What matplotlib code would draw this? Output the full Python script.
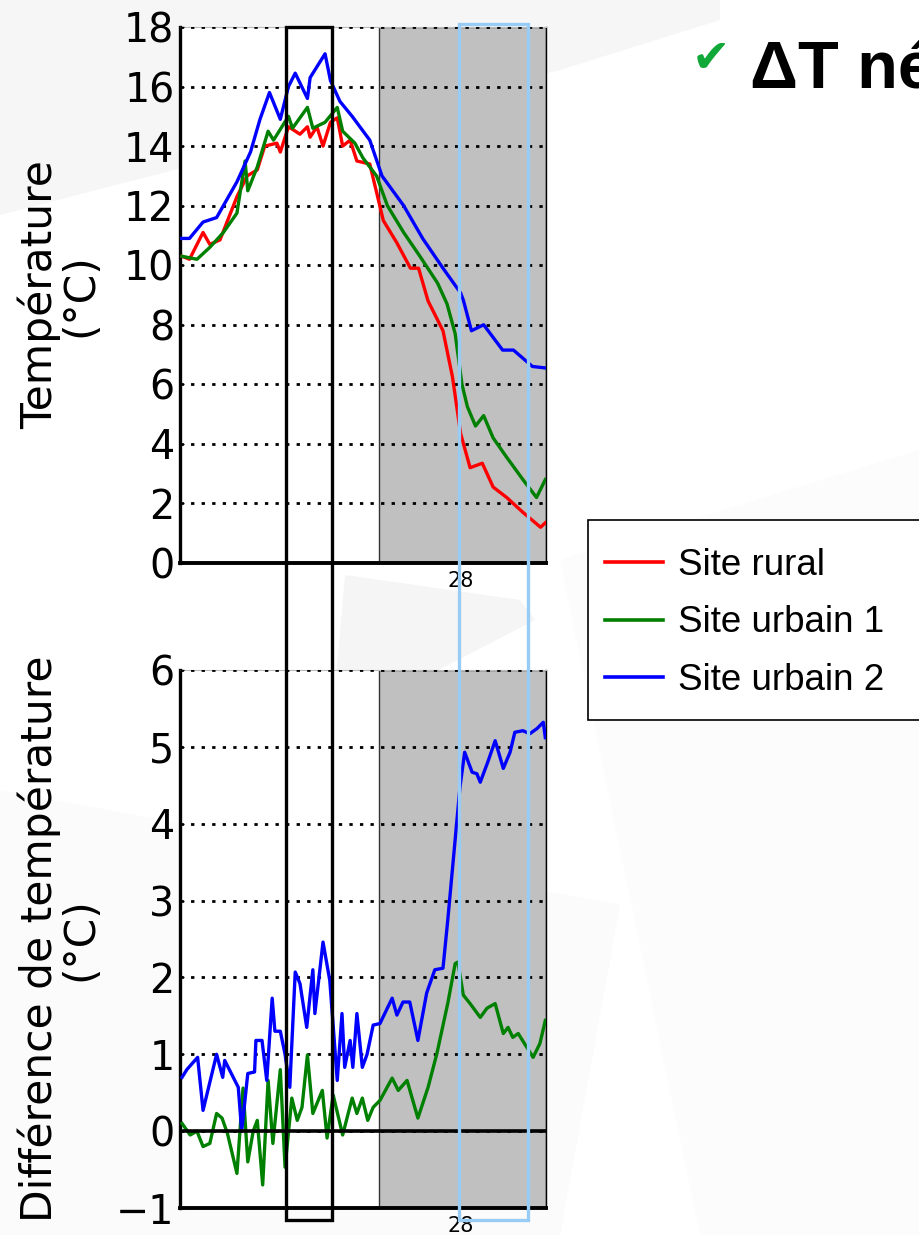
import matplotlib
matplotlib.use("Agg")
import matplotlib.pyplot as plt
from matplotlib.patches import Rectangle, Polygon
from matplotlib.transforms import blended_transform_factory

# Times are hours since 27 at 00:00 (tick "28" = 24 h)
t_rural = [3.45, 4.0, 5.0, 5.5, 6.25, 7.5, 8.25, 9.0, 9.55, 10.45, 10.7, 11.3, 12.15, 12.7, 12.9,
           13.4, 13.85, 14.4, 14.9, 15.3, 15.85, 16.35, 17.3, 18.3, 19.3, 20.3, 20.9, 21.6, 22.7, 23.4,
           24.0, 24.7, 25.6, 26.4, 27.4, 28.6, 29.9, 30.25]
temp_rural = [10.3, 10.2, 11.1, 10.7, 10.85, 12.3, 13.0, 13.2, 14.0, 14.1, 13.8, 14.65, 14.4, 14.65, 14.3,
              14.65, 14.0, 14.8, 14.95, 14.0, 14.2, 13.5, 13.4, 11.5, 10.75, 9.9, 9.9, 8.8, 7.8, 6.25,
              4.35, 3.2, 3.35, 2.55, 2.2, 1.7, 1.2, 1.35]

t_urb1 = [3.45, 4.55, 5.5, 6.5, 7.5, 8.1, 8.3, 9.0, 9.8, 10.2, 11.3, 11.6, 12.7, 13.1, 14.0, 14.9,
          15.3, 16.2, 16.8, 17.8, 18.6, 19.8, 21.0, 22.3, 23.0, 23.6, 24.1, 24.5, 25.1, 25.7, 26.4,
          27.4, 28.6, 29.6, 30.25]
temp_urb1 = [10.3, 10.2, 10.6, 11.1, 11.75, 13.5, 12.5, 13.3, 14.5, 14.2, 15.0, 14.6, 15.3, 14.6, 14.8, 15.3,
             14.5, 14.1, 13.6, 13.0, 12.0, 11.1, 10.3, 9.4, 8.7, 7.7, 6.0, 5.25, 4.6, 4.95, 4.2,
             3.55, 2.8, 2.2, 2.8]

t_urb2 = [3.4, 4.0, 5.0, 6.0, 6.5, 7.5, 8.5, 9.2, 9.9, 10.7, 11.3, 11.8, 12.7, 12.9, 14.0, 14.4,
          15.1, 16.0, 17.3, 18.2, 19.8, 21.2, 22.7, 24.0, 24.2, 24.8, 25.7, 27.1, 27.9, 29.3, 30.25]
temp_urb2 = [10.9, 10.9, 11.45, 11.6, 12.0, 12.8, 13.8, 14.9, 15.8, 14.9, 16.0, 16.45, 15.6, 16.3, 17.1, 16.2,
             15.5, 15.0, 14.2, 13.0, 12.0, 10.9, 9.9, 9.07, 8.83, 7.8, 8.0, 7.15, 7.15, 6.6, 6.55]

# Differences with the rural site
t_d1 = [3.45, 4.05, 4.55, 5.0, 5.5, 6.0, 6.4, 6.8, 7.5, 7.95, 8.3, 8.7, 9.0, 9.4, 9.8, 10.15, 10.7,
        11.05, 11.55, 11.95, 12.3, 12.7, 13.1, 13.8, 14.15, 14.6, 15.3, 16.0, 16.35, 16.75, 17.15,
        17.55, 18.05, 18.95, 19.4, 20.05, 20.85, 21.6, 22.25, 23.05, 23.6, 23.8, 24.2, 24.7, 25.45,
        25.95, 26.55, 27.15, 27.5, 27.85, 28.25, 29.35, 29.85, 30.25]
diff_urb1 = [0.1, -0.05, 0.0, -0.2, -0.16, 0.23, 0.17, -0.03, -0.55, 0.56, -0.4, 0.0, 0.14, -0.7, 0.66, -0.16, 0.8,
             -0.47, 0.43, 0.14, 0.31, 0.99, 0.23, 0.53, -0.09, 0.47, -0.05, 0.43, 0.23, 0.43, 0.14,
             0.31, 0.4, 0.69, 0.53, 0.66, 0.17, 0.57, 1.01, 1.66, 2.18, 2.2, 1.77, 1.66, 1.48,
             1.6, 1.66, 1.27, 1.35, 1.22, 1.27, 0.96, 1.14, 1.44]

t_d2 = [3.45, 3.8, 4.6, 5.0, 6.0, 6.45, 6.6, 7.6, 7.85, 8.3, 8.8, 8.9, 9.35, 9.7, 10.1, 10.3, 10.7,
        11.05, 11.4, 11.8, 12.15, 12.65, 13.1, 13.25, 13.85, 14.35, 14.9, 15.25, 15.45, 15.85, 16.05,
        16.35, 16.75, 17.1, 17.55, 18.05, 18.95, 19.3, 19.75, 20.25, 20.85, 21.5, 22.1, 22.7, 23.05,
        23.95, 24.3, 24.85, 25.2, 25.45, 26.0, 26.55, 27.15, 27.65, 28.0, 28.6, 29.1, 29.65, 30.1, 30.25]
diff_urb2 = [0.7, 0.8, 0.96, 0.27, 1.0, 0.7, 0.92, 0.57, 0.0, 0.75, 0.77, 1.18, 1.18, 0.66, 1.73, 1.3, 1.3,
             1.0, 0.57, 2.07, 1.92, 1.35, 2.1, 1.53, 2.46, 1.96, 0.66, 1.53, 0.83, 1.18, 0.83,
             1.53, 0.83, 1.0, 1.38, 1.4, 1.73, 1.51, 1.68, 1.68, 1.18, 1.8, 2.1, 2.12, 2.74,
             4.47, 4.93, 4.67, 4.65, 4.54, 4.8, 5.08, 4.72, 4.93, 5.19, 5.21, 5.17, 5.24, 5.32, 5.12]

labels = ["Site rural", "Site urbain 1", "Site urbain 2"]
colors = ["#ff0000", "#008000", "#0000ff"]

night_start = 18.0
x_range = (3.3, 30.3)
box_black = (11.1, 14.5)
box_blue = (23.9, 29.0)

W, H = 919, 1235
fig = plt.figure(figsize=(W / 100, H / 100), dpi=100)
fig.patch.set_facecolor("white")

# faint slide background shapes
for pts, c in [
    ([(0, 0), (720, 0), (720, 20), (560, 70), (0, 215)], "#f6f6f6"),
    ([(345, 575), (520, 600), (535, 620), (400, 690), (335, 690)], "#f5f5f5"),
    ([(0, 790), (620, 905), (560, 1235), (0, 1235)], "#fbfbfb"),
    ([(560, 560), (919, 450), (919, 1235), (700, 1235)], "#fcfcfc"),
]:
    fig.add_artist(Polygon([(x / W, 1 - y / H) for x, y in pts], closed=True,
                           facecolor=c, edgecolor="none", zorder=-5))

ax1 = fig.add_axes([180 / W, 1 - 563 / H, 366 / W, 536 / H])
ax2 = fig.add_axes([180 / W, 1 - 1208 / H, 366 / W, 538 / H])

lw = 2.4
handles = []
for t, v, c, lab in zip([t_rural, t_urb1, t_urb2], [temp_rural, temp_urb1, temp_urb2], colors, labels):
    h, = ax1.plot(t, v, color=c, lw=lw, zorder=3, label=lab)
    handles.append(h)

ax2.plot(t_d1, diff_urb1, color=colors[1], lw=lw, zorder=3)
ax2.plot(t_d2, diff_urb2, color=colors[2], lw=lw, zorder=3)
ax2.axhline(0, color="black", lw=2.6, zorder=4)

for ax, ylim, yticks in [(ax1, (0, 18), range(0, 19, 2)), (ax2, (-1, 6), range(-1, 7))]:
    ax.set_xlim(*x_range)
    ax.set_ylim(*ylim)
    ax.set_facecolor("white")
    ax.axvspan(night_start, x_range[1], facecolor="#c0c0c0", edgecolor="#333333", lw=1, zorder=1)
    ax.set_yticks(list(yticks))
    ax.set_yticklabels([str(v).replace("-", "\u2212") for v in yticks])
    ax.set_xticks([24])
    ax.set_xticklabels(["28"])
    ax.tick_params(axis="y", labelsize=28.5, direction="in", length=3, width=1, pad=4)
    ax.tick_params(axis="x", labelsize=15, length=0, pad=6)
    ax.set_axisbelow(False)
    ax.grid(axis="y", color="black", linestyle=(0, (1.2, 2.6)), lw=2.0, zorder=2)
    ax.grid(axis="x", visible=False)
    ax.spines["left"].set_linewidth(2.4)
    ax.spines["bottom"].set_linewidth(2.8)
    ax.spines["right"].set_linewidth(1.0)
    ax.spines["top"].set_color("#bbbbbb")
    ax.spines["top"].set_linewidth(0.8)

ax1.set_ylabel("Température\n(°C)", fontsize=30.5, linespacing=0.95)
ax1.yaxis.set_label_coords(-0.215, 0.5)
ax2.set_ylabel("Différence de température\n(°C)", fontsize=30.5, linespacing=0.95)
ax2.yaxis.set_label_coords(-0.215, 0.5)

# highlight boxes spanning both panels
trans = blended_transform_factory(ax1.transData, fig.transFigure)
fig.add_artist(Rectangle((box_black[0], 1 - 1220 / H), box_black[1] - box_black[0], (1220 - 27) / H,
                         transform=trans, fill=False, edgecolor="black", lw=2.4, zorder=10))
fig.add_artist(Rectangle((box_blue[0], 1 - 1220 / H), box_blue[1] - box_blue[0], (1220 - 24) / H,
                         transform=trans, fill=False, edgecolor="#99ccf5", lw=2.4, zorder=10))

# legend: frame drawn separately, it runs past the right edge of the slide crop
fig.add_artist(Rectangle((588 / W, 1 - 720 / H), 400 / W, 200 / H, transform=fig.transFigure,
                         facecolor="white", edgecolor="black", lw=1.2, zorder=8))
leg = fig.legend(handles, labels, loc="upper left", bbox_to_anchor=(588 / W, 1 - 531 / H),
                 prop={"family": "Liberation Sans", "size": 26.5}, frameon=False,
                 handlelength=1.6, handletextpad=0.4, labelspacing=0.62,
                 borderpad=0.45, borderaxespad=0)
leg.set_zorder(9)
for ln in leg.get_lines():
    ln.set_linewidth(2.6)

fig.text(711 / W, 1 - 60 / H, "\u2714", color="#10a838", fontsize=33, ha="center", va="center")
fig.text(750 / W, 1 - 88 / H, "ΔT né", fontsize=48, fontweight="bold",
         family="Liberation Sans", ha="left", va="baseline")

fig.savefig("out.png", dpi=100)
